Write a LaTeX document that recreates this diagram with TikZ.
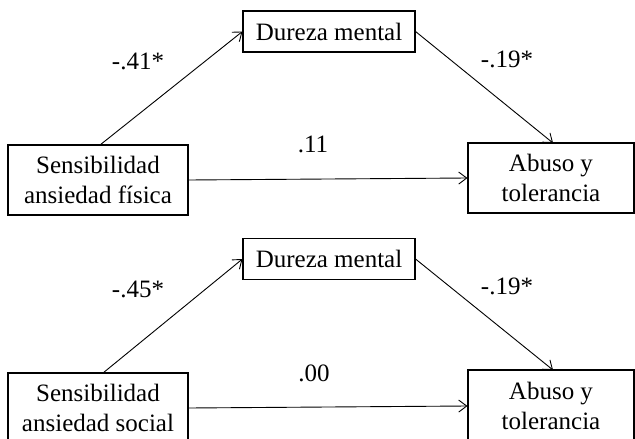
\documentclass[tikz,border=0pt]{standalone}
\usepackage{fontspec}
\setmainfont{Liberation Serif}
\usetikzlibrary{arrows.meta}
\begin{document}
\begin{tikzpicture}[x=1pt,y=-1pt,
  box/.style={draw, line width=1.1pt, inner sep=0pt, align=center, font=\fontsize{25}{30}\selectfont},
  lbl/.style={anchor=base, inner sep=0pt, font=\fontsize{25}{30}\selectfont},
  conn/.style={line width=0.9pt, -{Straight Barb[length=8pt,width=12pt,line width=0.9pt]}}]
\useasboundingbox (0,0) rectangle (635,439);
\clip (0,0) rectangle (635,439);
% top panel
\node[box, minimum width=180pt, minimum height=70pt] (s1) at (98,180) {Sensibilidad\\ansiedad física};
\node[box, minimum width=172pt, minimum height=41pt] (d1) at (329,31.5) {Dureza mental};
\node[box, minimum width=166pt, minimum height=70pt] (a1) at (551,178) {Abuso y\\tolerancia};
\coordinate (s1t) at (100,145);
\coordinate (a1t) at (553,143);
\draw[conn] (s1t) -- (d1.west);
\draw[conn] (d1.east) -- (a1t);
\draw[conn] (s1.east) -- (a1.west);
\node[lbl] (l1) at (138,69) {-.41*};
\node[lbl] (l2) at (507,67) {-.19*};
\node[lbl] (l3) at (313,152) {.11};
% bottom panel
\node[box, minimum width=180pt, minimum height=70pt] (s2) at (98,408) {Sensibilidad\\ansiedad social};
\node[box, minimum width=172pt, minimum height=41pt] (d2) at (329,259) {Dureza mental};
\node[box, minimum width=166pt, minimum height=72pt] (a2) at (551,406) {Abuso y\\tolerancia};
\coordinate (s2t) at (103,373);
\coordinate (a2t) at (553,370);
\draw[conn] (s2t) -- (d2.west);
\draw[conn] (d2.east) -- (a2t);
\draw[conn] (s2.east) -- (a2.west);
\node[lbl] (l4) at (138,297) {-.45*};
\node[lbl] (l5) at (507,294) {-.19*};
\node[lbl] (l6) at (314,381) {.00};
\end{tikzpicture}
\end{document}
